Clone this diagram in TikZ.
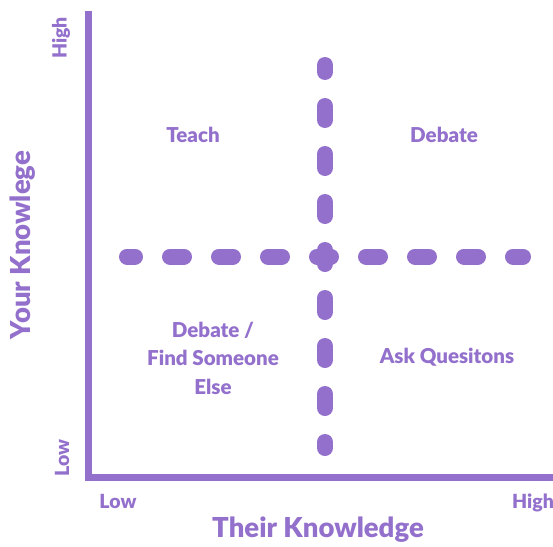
\documentclass[tikz,border=0pt]{standalone}
\usepackage{fontspec}
\setmainfont{Lato}[BoldFont={Lato Black}]
\definecolor{quadpurple}{RGB}{146,112,204}
\tikzset{
    axis line/.style={
        quadpurple,
        line width=7pt
    },
    divider/.style={
        quadpurple,
        line width=16pt,
        line cap=round
    },
    quad label/.style={
        text=quadpurple,
        font=\bfseries\fontsize{20.5}{28.5}\selectfont,
        align=center
    },
    tick label/.style={
        text=quadpurple,
        font=\bfseries\fontsize{19.5}{20}\selectfont
    },
    axis title/.style={
        text=quadpurple,
        font=\bfseries\fontsize{27.5}{30}\selectfont
    }
}

\begin{document}
\begin{tikzpicture}[x=1pt,y=-1pt]
    \useasboundingbox (0,0) rectangle (553,546);
    % axes
    \coordinate (ytop) at (88.5,11);
    \coordinate (origin) at (88.5,477.5);
    \coordinate (xend) at (553,477.5);
    \draw [axis line] (ytop) -- (origin) -- (xend);
    % quadrant dividers
    \coordinate (hleft) at (127,256.5);
    \coordinate (hright) at (523,256.5);
    \coordinate (vtop) at (325,65);
    \coordinate (vbot) at (325,448);
    \draw [divider, dash pattern=on 14pt off 35pt, dash phase=6pt] (hleft) -- (hright);
    \draw [divider, dash pattern=on 14pt off 34pt, dash phase=7pt] (vtop) -- (vbot);
    % quadrants
    \node [quad label, anchor=base] (teach) at (193,142) {Teach};
    \node [quad label, anchor=base] (debate) at (444,142) {Debate};
    \node [quad label] (findelse) at (213,358) {Debate /\\Find Someone\\Else};
    \node [quad label, anchor=base] (ask) at (447,363) {Ask Quesitons};
    % axis labels
    \node [tick label, rotate=90] (yhigh) at (61,38) {High};
    \node [tick label, rotate=90] (ylow) at (62,458) {Low};
    \node [tick label, anchor=base] (xlow) at (118,508) {Low};
    \node [tick label, anchor=base] (xhigh) at (533,508) {High};
    \node [axis title, rotate=90] (ytitle) at (23,245) {Your Knowlege};
    \node [axis title, anchor=base] (xtitle) at (318,537) {Their Knowledge};
\end{tikzpicture}
\end{document}
